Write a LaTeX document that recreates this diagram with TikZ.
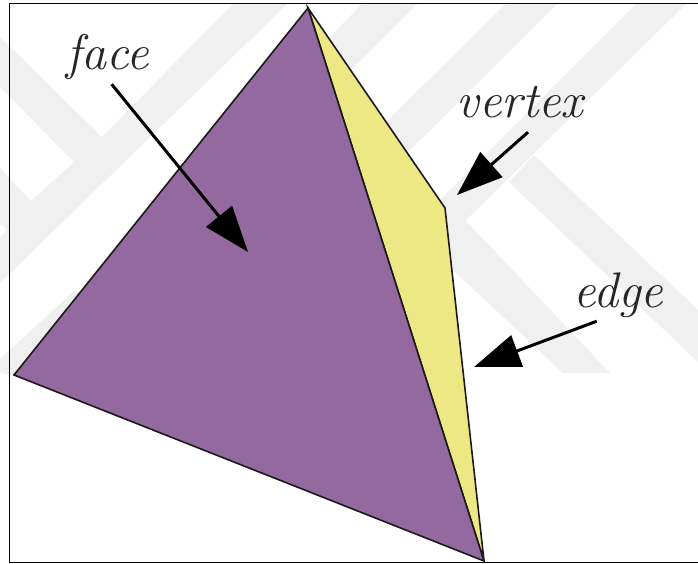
\documentclass[tikz,border=0pt]{standalone}
\usepackage{xcolor}
\usetikzlibrary{arrows.meta}
\definecolor{wmgray}{RGB}{240,240,240}
\definecolor{facepurple}{RGB}{147,105,159}
\definecolor{faceyellow}{RGB}{238,232,132}

\begin{document}
\begin{tikzpicture}[
  x=1pt, y=-1pt,
  stripe/.style={fill=wmgray, draw=none},
  solid face/.style={fill=#1, draw=black!90, line width=1.6pt, line join=miter},
  lab/.style={font=\fontsize{50}{60}\selectfont\itshape, anchor=base, inner sep=2pt,
              text height=36pt, text depth=12pt, text=black!85},
  pointer/.style={-{Triangle[length=46pt, width=33pt]}, line width=3pt, black},
]
\useasboundingbox (0,0) rectangle (698,564);
% watermark
\fill[stripe] (233,4) -- (287,4) -- (0,283) -- (0,237) -- (7,230) -- (31,201) -- (74,162) -- (102,137) -- cycle;
\fill[stripe] (0,37) -- (102,137) -- (74,162) -- (0,87) -- cycle;
\fill[stripe] (0,168) -- (31,201) -- (7,230) -- (0,223) -- cycle;
\fill[stripe] (75,290) -- (0,359) -- (0,373) -- (14,375) -- (90,300) -- cycle;
\fill[stripe] (362,4) -- (417,4) -- (320,101) -- (320,47) -- cycle;
\fill[stripe] (506,4) -- (557,4) -- (380,180) -- (380,128) -- cycle;
\fill[stripe] (636,4) -- (686,4) -- (464,222) -- (440,240) -- (430,210) -- cycle;
\fill[stripe] (534,155) -- (698,310) -- (698,362) -- (509,182) -- cycle;
\fill[stripe] (467,222) -- (610,373) -- (563,373) -- (453,270) -- (440,240) -- (450,205) -- cycle;
% frame
\draw[line width=1.8pt] (698,3.5) -- (9.5,3.5) -- (9.5,562.5) -- (698,562.5);
% solid
\coordinate (apex) at (308,8);
\coordinate (left) at (14,375);
\coordinate (bottom) at (484,561);
\coordinate (corner) at (445,208);
\draw[solid face=faceyellow] (apex) -- (corner) -- (bottom) -- cycle;
\draw[solid face=facepurple] (apex) -- (left) -- (bottom) -- cycle;
% labels
\node[lab] (facelabel) at (107.5,70) {face};
\node[lab] (vertexlabel) at (520,118) {vertex};
\node[lab] (edgelabel) at (618,307) {edge};
\coordinate (facetip) at (248,252);
\coordinate (vertextip) at (457,195);
\coordinate (edgetip) at (474,367);
\draw[pointer] (facelabel.279) -- (facetip);
\draw[pointer] (vertexlabel.287) -- (vertextip);
\draw[pointer] (edgelabel.231) -- (edgetip);
\end{tikzpicture}
\end{document}
